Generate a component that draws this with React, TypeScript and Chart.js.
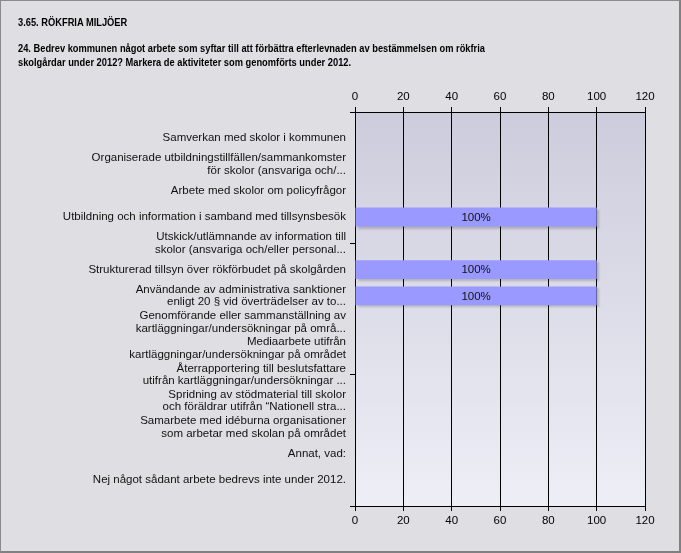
import React, { useEffect, useRef } from "react";
import { Chart, registerables } from "chart.js";

Chart.register(...registerables);

const titleText = "3.65. RÖKFRIA MILJÖER";
const questionLines = [
  "24. Bedrev kommunen något arbete som syftar till att förbättra efterlevnaden av bestämmelsen om rökfria",
  "skolgårdar under 2012? Markera de aktiviteter som genomförts under 2012.",
];

const categories: (string | string[])[] = [
  "Samverkan med skolor i kommunen",
  ["Organiserade utbildningstillfällen/sammankomster", "för skolor (ansvariga och/..."],
  "Arbete med skolor om policyfrågor",
  "Utbildning och information i samband med tillsynsbesök",
  ["Utskick/utlämnande av information till", "skolor (ansvariga och/eller personal..."],
  "Strukturerad tillsyn över rökförbudet på skolgården",
  ["Användande av administrativa sanktioner", "enligt 20 § vid överträdelser av to..."],
  ["Genomförande eller sammanställning av", "kartläggningar/undersökningar på områ..."],
  ["Mediaarbete utifrån", "kartläggningar/undersökningar på området"],
  ["Återrapportering till beslutsfattare", "utifrån kartläggningar/undersökningar ..."],
  ["Spridning av stödmaterial till skolor", "och föräldrar utifrån “Nationell stra..."],
  ["Samarbete med idéburna organisationer", "som arbetar med skolan på området"],
  "Annat, vad:",
  "Nej något sådant arbete bedrevs inte under 2012.",
];

const values = [0, 0, 0, 100, 0, 100, 100, 0, 0, 0, 0, 0, 0, 0];

const FONT = "'Liberation Sans', Arial, sans-serif";

const bgPlugin = {
  id: "plotBg",
  beforeDraw(chart: any) {
    const { ctx, chartArea } = chart;
    if (!chartArea) return;
    const g = ctx.createLinearGradient(0, chartArea.top, 0, chartArea.bottom);
    g.addColorStop(0, "#ccccdc");
    g.addColorStop(1, "#eeeef6");
    ctx.save();
    ctx.fillStyle = g;
    ctx.fillRect(chartArea.left, chartArea.top, chartArea.right - chartArea.left, chartArea.bottom - chartArea.top);
    ctx.restore();
  },
  beforeDatasetsDraw(chart: any) {
    const ctx = chart.ctx;
    ctx.save();
    ctx.shadowColor = "rgba(0,0,0,0.18)";
    ctx.shadowBlur = 2;
    ctx.shadowOffsetX = 2;
    ctx.shadowOffsetY = 2;
  },
  afterDatasetsDraw(chart: any) {
    const ctx = chart.ctx;
    ctx.restore();
    const meta = chart.getDatasetMeta(0);
    ctx.save();
    ctx.font = `11.5px ${FONT}`;
    ctx.fillStyle = "#111";
    ctx.textAlign = "center";
    ctx.textBaseline = "middle";
    meta.data.forEach((bar: any, i: number) => {
      const v = values[i];
      if (!v) return;
      const cx = (bar.x + bar.base) / 2;
      ctx.fillText(`${v}%`, cx, bar.y + 0.5);
    });
    ctx.restore();
  },
};

const titleStyle: React.CSSProperties = {
  position: "absolute",
  left: 18,
  fontFamily: FONT,
  fontSize: 11,
  fontWeight: "bold",
  color: "#000",
  lineHeight: "14px",
  whiteSpace: "nowrap",
  transform: "scaleX(0.846)",
  transformOrigin: "0 0",
};

export default function App() {
  const ref = useRef<HTMLCanvasElement | null>(null);

  useEffect(() => {
    document.body.style.margin = "0";
    if (!ref.current) return;
    const chart = new Chart(ref.current, {
      type: "bar",
      data: {
        datasets: [
          {
            data: values.map((v, i) => ({ x: v, y: i })),
            backgroundColor: "#9999ff",
            borderWidth: 0,
            barPercentage: 0.9,
            categoryPercentage: 0.8,
          },
        ],
      },
      plugins: [bgPlugin],
      options: {
        indexAxis: "y",
        animation: false,
        responsive: false,
        devicePixelRatio: 1,
        layout: { padding: { left: 0, right: 36, top: 92, bottom: 27 } },
        plugins: { legend: { display: false }, tooltip: { enabled: false }, title: { display: false } },
        scales: {
          x: {
            type: "linear",
            position: "bottom",
            min: 0,
            max: 120,
            ticks: { stepSize: 20, color: "#000", font: { family: FONT, size: 11.5 }, padding: 3 },
            grid: { color: "#000", lineWidth: 1, drawOnChartArea: true, tickLength: 5, tickColor: "#000" },
            border: { display: true, color: "#000" },
            afterFit: (s: any) => { s.height = 20; },
          },
          x2: {
            type: "linear",
            position: "top",
            min: 0,
            max: 120,
            ticks: { stepSize: 20, color: "#000", font: { family: FONT, size: 11.5 }, padding: 3 },
            grid: { drawOnChartArea: false, tickLength: 5, tickColor: "#000" },
            border: { display: true, color: "#000" },
            afterFit: (s: any) => { s.height = 20; },
          },
          y: {
            type: "linear",
            reverse: true,
            offset: false,
            min: -1,
            max: 14,
            afterBuildTicks: (s: any) => {
              s.ticks = Array.from({ length: categories.length + 2 }, (_, k) => ({ value: k - 1 }));
            },
            afterFit: (s: any) => { s.width = 355; },
            ticks: {
              autoSkip: false,
              color: "#111",
              padding: 4,
              font: { family: FONT, size: 11.5, lineHeight: 1.1 },
              callback: (v: any) => {
                const c = categories[v as number];
                return c === undefined ? "" : c;
              },
            },
            grid: {
              offset: false,
              drawOnChartArea: false,
              tickLength: 5,
              tickColor: (c: any) => (((c.tick?.value ?? 0) + 1) % 5 === 0 ? "#000" : "rgba(0,0,0,0)"),
            },
            border: { display: true, color: "#000" },
          },
        },
      },
    });
    return () => chart.destroy();
  }, []);

  return (
    <div style={{ position: "relative", width: 681, height: 553, background: "#dfdfe3", fontFamily: FONT, overflow: "hidden" }}>
      <canvas ref={ref} width={681} height={553} style={{ position: "absolute", left: 0, top: 0, width: 681, height: 553 }} />
      <div style={{ ...titleStyle, top: 15 }}>{titleText}</div>
      <div style={{ ...titleStyle, top: 41 }}>
        {questionLines.map((l, i) => (
          <div key={i}>{l}</div>
        ))}
      </div>
      <div style={{ position: "absolute", left: 0, top: 0, width: 681, height: 553, boxSizing: "border-box", borderTop: "1px solid #8a8a8a", borderLeft: "1px solid #8a8a8a", borderRight: "2px solid #808080", borderBottom: "2px solid #808080", pointerEvents: "none" }} />
    </div>
  );
}
